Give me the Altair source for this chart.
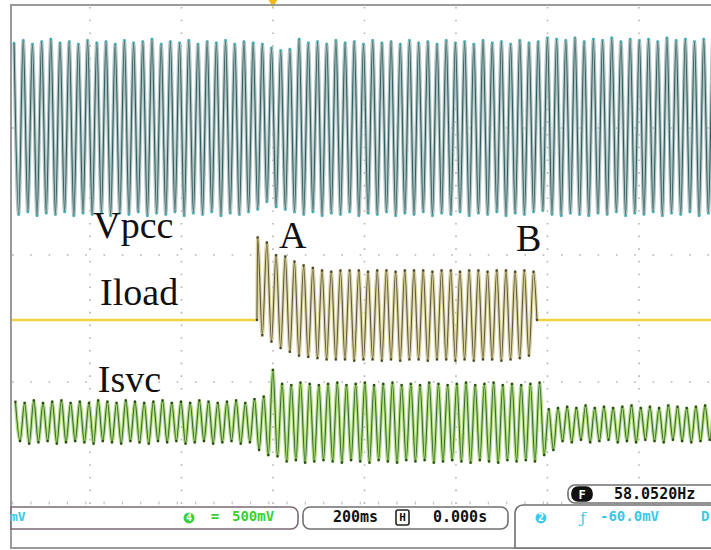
import altair as alt
import pandas as pd

# ---------------------------------------------------------------
# Scope capture: Vpcc, Iload and Isvc while a load is switched in (A)
# and out (B).  Time in ms (trigger at 0), vertical in screen divisions.
# ---------------------------------------------------------------

PERIOD = 20.1            # one mains cycle (ms)
T_LEFT = -575.0          # left edge of the trace window
T_RIGHT = 960.0          # right edge of the trace window
T0_VPCC = -566.0         # first Vpcc crest
T0_ISVC = -563.0         # first Isvc crest
T_ON = -35.0             # load switched on  (A)
T_OFF = 577.0            # load switched off (B)

# channel ground levels (divisions)
VPCC_POS = 2.0
ILOAD_POS = 0.488
ISVC_POS = -0.315

# Vpcc crest / trough per cycle (div)
vpcc_hi = [0.67, 0.69, 0.66, 0.68, 0.70, 0.67, 0.68, 0.66, 0.69, 0.67,
           0.68, 0.66, 0.69, 0.67, 0.68, 0.70, 0.66, 0.68, 0.67, 0.69,
           0.66, 0.68, 0.67, 0.69, 0.66, 0.68, 0.67,
           0.66, 0.63, 0.61, 0.62,
           0.70, 0.67, 0.68, 0.66, 0.69, 0.67, 0.68, 0.66, 0.69,
           0.67, 0.68, 0.66, 0.69, 0.67, 0.68, 0.66, 0.69, 0.67, 0.68,
           0.66, 0.69, 0.67, 0.68, 0.66, 0.69, 0.67, 0.68,
           0.71, 0.70, 0.69, 0.71, 0.68, 0.70, 0.69, 0.71, 0.68, 0.70,
           0.69, 0.70, 0.68, 0.71, 0.69, 0.70, 0.68, 0.70, 0.69]
vpcc_lo = [-0.68, -0.66, -0.69, -0.67, -0.68, -0.66, -0.69, -0.67, -0.68, -0.66,
           -0.69, -0.67, -0.68, -0.66, -0.69, -0.67, -0.68, -0.66, -0.69, -0.67,
           -0.68, -0.66, -0.69, -0.67, -0.68, -0.66, -0.64,
           -0.58, -0.62, -0.64, -0.66,
           -0.68, -0.66, -0.69, -0.67, -0.68, -0.66, -0.69, -0.67, -0.68,
           -0.66, -0.69, -0.67, -0.68, -0.66, -0.69, -0.67, -0.68, -0.66, -0.69,
           -0.67, -0.68, -0.66, -0.69, -0.67, -0.68, -0.66, -0.65,
           -0.68, -0.69, -0.67, -0.68, -0.69, -0.67, -0.68, -0.66, -0.69, -0.67,
           -0.68, -0.66, -0.69, -0.67, -0.68, -0.66, -0.69, -0.67, -0.68]

# Iload crest / trough per cycle while the load is on (div)
iload_hi = [0.65, 0.61, 0.51, 0.50, 0.46, 0.43, 0.41, 0.39, 0.38, 0.39,
            0.39, 0.39, 0.38, 0.39, 0.39, 0.38, 0.39, 0.39, 0.39, 0.38,
            0.39, 0.39, 0.38, 0.39, 0.39, 0.38, 0.39, 0.39, 0.38, 0.39,
            0.38]
iload_lo = [-0.12, -0.17, -0.22, -0.25, -0.28, -0.29, -0.30, -0.31, -0.31, -0.31,
            -0.32, -0.31, -0.31, -0.32, -0.31, -0.32, -0.31, -0.31, -0.32, -0.31,
            -0.31, -0.32, -0.31, -0.32, -0.31, -0.31, -0.32, -0.31, -0.30, -0.28]

# Isvc crest / trough per cycle (div)
isvc_hi = [0.16, 0.15, 0.17, 0.15, 0.16, 0.17, 0.15, 0.16, 0.15, 0.17,
           0.16, 0.15, 0.17, 0.16, 0.15, 0.16, 0.17, 0.15, 0.16, 0.15,
           0.17, 0.16, 0.15, 0.16, 0.17, 0.15, 0.18,
           0.20, 0.41,
           0.30, 0.29, 0.31, 0.30, 0.29, 0.30, 0.31, 0.29, 0.30, 0.31,
           0.29, 0.30, 0.31, 0.29, 0.30, 0.29, 0.31, 0.30, 0.29, 0.30,
           0.31, 0.29, 0.30, 0.31, 0.29, 0.30, 0.29, 0.30,
           0.31, 0.10,
           0.11, 0.12, 0.11, 0.13, 0.11, 0.12, 0.11, 0.12, 0.13, 0.11,
           0.12, 0.11, 0.13, 0.12, 0.11, 0.12, 0.13, 0.11]
isvc_lo = [-0.15, -0.17, -0.16, -0.15, -0.17, -0.16, -0.15, -0.16, -0.17, -0.15,
           -0.16, -0.17, -0.15, -0.16, -0.17, -0.15, -0.16, -0.15, -0.17, -0.16,
           -0.15, -0.17, -0.16, -0.15, -0.17, -0.16, -0.22,
           -0.26, -0.27,
           -0.31, -0.30, -0.32, -0.31, -0.30, -0.31, -0.32, -0.30, -0.31, -0.32,
           -0.30, -0.31, -0.32, -0.30, -0.31, -0.30, -0.32, -0.31, -0.30, -0.31,
           -0.32, -0.30, -0.31, -0.32, -0.30, -0.31, -0.30, -0.31,
           -0.26, -0.22,
           -0.15, -0.16, -0.14, -0.16, -0.15, -0.14, -0.16, -0.15, -0.16, -0.14,
           -0.15, -0.16, -0.14, -0.15, -0.16, -0.15, -0.14, -0.16]

# graticule
grid_rows = [0, 1, 2]
grid_cols = [-400, -200, 0, 200, 400, 600, 800]

# trace labels: text, time, level
labels = ["Vpcc", "A", "B", "Iload", "Isvc"]
label_t = [-393, 13, 531, -378, -383]
label_v = [1.134, 1.055, 1.031, 0.606, -0.079]

X_DOMAIN = [-596.7, 957.4]
Y_DOMAIN = [-1.323, 3.008]


def cycles(t0, hi, lo, pos):
    rows = []
    for k, (a, b) in enumerate(zip(hi, lo)):
        t = t0 + PERIOD * k
        rows.append({"t": t, "v": pos + a})
        rows.append({"t": t + PERIOD / 2, "v": pos + b})
    return rows


vpcc_df = pd.DataFrame(cycles(T0_VPCC, vpcc_hi, vpcc_lo, VPCC_POS))
vpcc_df["i"] = range(len(vpcc_df))

iload_rows = [{"t": T_ON, "v": ILOAD_POS}]
iload_rows += cycles(T_ON + 1.5, iload_hi, iload_lo, ILOAD_POS)
iload_rows.append({"t": T_ON + 1.5 + PERIOD * len(iload_lo), "v": ILOAD_POS + iload_hi[-1]})
iload_rows.append({"t": T_OFF, "v": ILOAD_POS})
iload_df = pd.DataFrame(iload_rows)
iload_df["i"] = range(len(iload_df))

flat_df = pd.DataFrame({
    "t": [T_LEFT, T_ON, T_OFF, T_RIGHT],
    "v": [ILOAD_POS] * 4,
    "seg": [0, 0, 1, 1],
})

isvc_df = pd.DataFrame(cycles(T0_ISVC, isvc_hi, isvc_lo, ISVC_POS))
isvc_df["i"] = range(len(isvc_df))

xs = alt.Scale(domain=X_DOMAIN, nice=False, zero=False)
ys = alt.Scale(domain=Y_DOMAIN, nice=False, zero=False)
X = alt.X("t:Q", scale=xs, axis=None)
Y = alt.Y("v:Q", scale=ys, axis=None)
one = pd.DataFrame({"k": [0]})


def trace(df, under, main, tip):
    base = alt.Chart(df).encode(x=X, y=Y, order="i:Q")
    return [
        base.mark_line(color=under, strokeWidth=3.4, opacity=0.9, interpolate="monotone", clip=True),
        base.mark_line(color=main, strokeWidth=1.1, interpolate="monotone", clip=True),
        base.mark_point(shape="square", size=5, filled=True, color=tip, opacity=0.9, clip=True),
    ]


layers = []

# graticule dots
layers.append(
    alt.Chart(pd.DataFrame({"v": grid_rows})).mark_rule(
        color="#b4b4b4", strokeWidth=1.6, strokeDash=[1.6, 16.7]
    ).encode(y=Y, x=alt.value(12), x2=alt.value(711))
)
layers.append(
    alt.Chart(pd.DataFrame({"t": grid_cols})).mark_rule(
        color="#b4b4b4", strokeWidth=1.6, strokeDash=[1.6, 11.1]
    ).encode(x=X, y=alt.value(7), y2=alt.value(504))
)
# minor ticks along the screen bottom
layers.append(
    alt.Chart(one).mark_rule(color="#c4c4c4", strokeWidth=3, strokeDash=[1.2, 17.1]).encode(
        x=alt.value(12), x2=alt.value(711), y=alt.value(503)
    )
)

# traces
layers += trace(vpcc_df, "#a9bdbd", "#2f5d5e", "#2aaeb0")
layers.append(
    alt.Chart(flat_df).mark_line(color="#f1d33a", strokeWidth=2.6, clip=True).encode(
        x=X, y=Y, detail="seg:N"
    )
)
layers += trace(iload_df, "#d8cf98", "#5e5940", "#3a3826")
layers += trace(isvc_df, "#a9dc78", "#3f6a2c", "#1f3a14")

# trace labels
layers.append(
    alt.Chart(pd.DataFrame({"t": label_t, "v": label_v, "label": labels})).mark_text(
        font="Liberation Serif", fontSize=38, align="left", baseline="alphabetic", color="#111111"
    ).encode(x=X, y=Y, text="label:N")
)

# trigger marker
layers.append(
    alt.Chart(pd.DataFrame({"t": [0]})).mark_point(
        shape="triangle-down", filled=True, size=110, color="#f2b90f", opacity=1
    ).encode(x=X, y=alt.value(3))
)

# screen frame
FRAME = "#9a9a9a"
layers.append(alt.Chart(one).mark_rule(color=FRAME, strokeWidth=2).encode(
    x=alt.value(11), y=alt.value(4), y2=alt.value(549)))
layers.append(alt.Chart(one).mark_rule(color=FRAME, strokeWidth=2).encode(
    x=alt.value(10), x2=alt.value(711), y=alt.value(5)))
layers.append(alt.Chart(one).mark_rule(color=FRAME, strokeWidth=2).encode(
    x=alt.value(10), x2=alt.value(711), y=alt.value(548)))


# status bar boxes
def box(x1, x2, y1, y2, fill="white", stroke="#707070", **corners):
    return alt.Chart(one).mark_rect(fill=fill, stroke=stroke, strokeWidth=1.6, **corners).encode(
        x=alt.value(x1), x2=alt.value(x2), y=alt.value(y1), y2=alt.value(y2)
    )


def label(txt, x, y, color="#111111", size=15, align="left", weight="bold", font="DejaVu Sans Mono"):
    return alt.Chart(one).mark_text(
        text=txt, font=font, fontSize=size, fontWeight=weight, color=color,
        align=align, baseline="middle"
    ).encode(x=alt.value(x), y=alt.value(y))


GREEN = "#38d038"
CYAN = "#3cc8e6"

layers.append(box(11, 298, 507, 529, stroke="#7a6a76", cornerRadiusTopRight=7, cornerRadiusBottomRight=7))
layers.append(box(303, 508, 507, 529, cornerRadius=7))
layers.append(box(515, 725, 505, 548, cornerRadiusTopLeft=8))
layers.append(box(568, 725, 485, 503, cornerRadius=7))
layers.append(box(572, 592, 487, 501, fill="#111111", stroke="#111111", cornerRadius=6))

layers.append(label("mV", 10, 517, color=CYAN, size=13))
layers.append(
    alt.Chart(one).mark_point(shape="circle", filled=True, size=120, color=GREEN, opacity=1).encode(
        x=alt.value(189), y=alt.value(518))
)
layers.append(label("4", 189, 518, color="white", size=10, align="center"))
layers.append(label("=", 215, 517, color=GREEN, size=14, align="center"))
layers.append(label("500mV", 232, 517, color=GREEN, size=14))

layers.append(label("200ms", 333, 517, size=15))
layers.append(box(396, 409, 510, 525, fill="white", stroke="#222222", cornerRadius=2))
layers.append(label("H", 402.5, 517.5, size=11, align="center"))
layers.append(label("0.000s", 433, 517, size=15))

layers.append(
    alt.Chart(one).mark_point(shape="circle", filled=True, size=120, color=CYAN, opacity=1).encode(
        x=alt.value(541), y=alt.value(518))
)
layers.append(label("2", 541, 518, color="white", size=10, align="center"))
layers.append(label("ƒ", 583, 518, color=CYAN, size=15, align="center", weight="normal", font="DejaVu Serif"))
layers.append(label("-60.0mV", 600, 517, color=CYAN, size=14))
layers.append(label("D", 701, 517, color=CYAN, size=14))

layers.append(label("F", 582, 494.5, color="white", size=12, align="center"))
layers.append(label("58.0520Hz", 614, 494, size=15))

chart = alt.layer(*layers).properties(
    width=711,
    height=550,
    padding=0,
    autosize=alt.AutoSizeParams(type="none"),
    background="white",
).configure_view(stroke=None)

chart.save("out.html", embed_options={"renderer": "svg", "actions": False})
